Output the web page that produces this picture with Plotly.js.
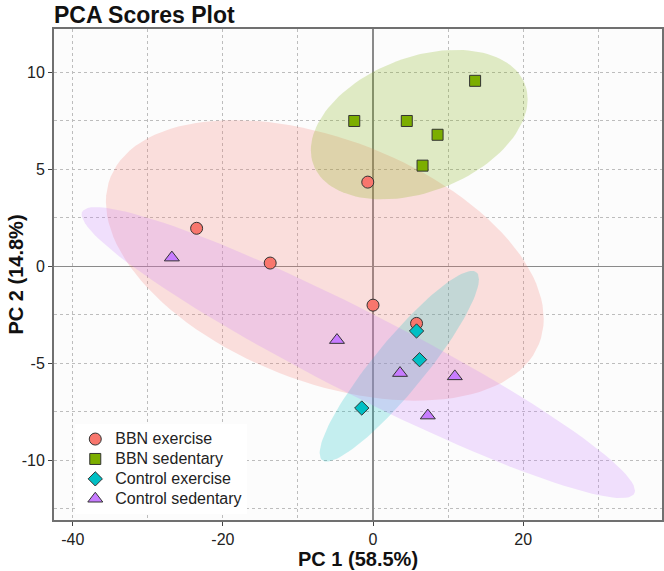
<!DOCTYPE html>
<html>
<head>
<meta charset="utf-8">
<script src="https://cdn.plot.ly/plotly-3.0.1.min.js"></script>
<style>html,body{margin:0;padding:0;background:#fff;}#chart{width:664px;height:571px;}</style>
</head>
<body>
<div id="chart"></div>
<script>
// Group names
const groups = ["BBN exercise", "BBN sedentary", "Control exercise", "Control sedentary"];

// PC1 / PC2 scores per group
const bbnExercisePC1 = [-23.5, -13.7, -0.7, 0.0, 5.8];
const bbnExercisePC2 = [1.96, 0.17, 4.34, -2.0, -2.94];

const bbnSedentaryPC1 = [-2.5, 4.5, 8.6, 6.6, 13.6];
const bbnSedentaryPC2 = [7.49, 7.49, 6.78, 5.19, 9.56];

const controlExercisePC1 = [5.8, 6.2, -1.5];
const controlExercisePC2 = [-3.33, -4.81, -7.3];

const controlSedentaryPC1 = [-26.8, -4.8, 3.6, 10.9, 7.3];
const controlSedentaryPC2 = [0.45, -3.8, -5.5, -5.67, -7.69];

const xTickVals = [-40, -20, 0, 20];
const xTickText = ["-40", "-20", "0", "20"];
const yTickVals = [-10, -5, 0, 5, 10];
const yTickText = ["-10", "-5", "0", "5", "10"];

const xTitle = "PC 1 (58.5%)";
const yTitle = "PC 2 (14.8%)";
const chartTitle = "PCA Scores Plot";

// styles
const colors = ["#F8766D", "#7CAE00", "#00BFC4", "#C77CFF"];
const fills = ["rgba(248,118,109,0.22)", "rgba(124,174,0,0.22)", "rgba(0,191,196,0.22)", "rgba(199,124,255,0.22)"];
const symbols = ["circle", "square", "diamond", "triangle-up"];
const sizes = [12, 11, 11, 13];

const xs = [bbnExercisePC1, bbnSedentaryPC1, controlExercisePC1, controlSedentaryPC1];
const ys = [bbnExercisePC2, bbnSedentaryPC2, controlExercisePC2, controlSedentaryPC2];

// 95% confidence ellipse from group covariance (chi-square, 2 df)
function confEllipse(x, y, level, npts) {
  const n = x.length;
  const mx = x.reduce((a, b) => a + b, 0) / n;
  const my = y.reduce((a, b) => a + b, 0) / n;
  let sxx = 0, syy = 0, sxy = 0;
  for (let i = 0; i < n; i++) {
    sxx += (x[i] - mx) * (x[i] - mx);
    syy += (y[i] - my) * (y[i] - my);
    sxy += (x[i] - mx) * (y[i] - my);
  }
  sxx /= (n - 1); syy /= (n - 1); sxy /= (n - 1);
  const t = Math.sqrt(-2 * Math.log(1 - level));
  const l11 = Math.sqrt(sxx);
  const l21 = sxy / l11;
  const l22 = Math.sqrt(Math.max(syy - l21 * l21, 0));
  const ex = [], ey = [];
  for (let k = 0; k <= npts; k++) {
    const a = 2 * Math.PI * k / npts;
    const c = Math.cos(a), s = Math.sin(a);
    ex.push(mx + t * l11 * c);
    ey.push(my + t * (l21 * c + l22 * s));
  }
  return {x: ex, y: ey};
}

const traces = [];
for (let g = 0; g < groups.length; g++) {
  const e = confEllipse(xs[g], ys[g], 0.95, 120);
  traces.push({
    x: e.x, y: e.y, type: "scatter", mode: "lines", fill: "toself",
    fillcolor: fills[g], line: {width: 0, color: "rgba(0,0,0,0)"},
    hoverinfo: "skip", showlegend: false
  });
}
for (let g = 0; g < groups.length; g++) {
  traces.push({
    x: xs[g], y: ys[g], type: "scatter", mode: "markers",
    name: '<span style="font-size:16px">' + groups[g] + '</span>',
    marker: {symbol: symbols[g], size: sizes[g], color: colors[g], line: {color: "#333333", width: 1}}
  });
}

const FONT = "Liberation Sans, Arial, sans-serif";
const axisCommon = {
  showline: true, mirror: true, linecolor: "#707070", linewidth: 2,
  ticks: "outside", ticklen: 4, tickcolor: "#444", tickwidth: 1,
  showgrid: true, gridcolor: "#bdbdbd", griddash: "dot", gridwidth: 1,
  zeroline: true, zerolinecolor: "#8a8a8a", zerolinewidth: 1.5,
  tickfont: {family: FONT, size: 16, color: "#222"},
  automargin: false
};

const layout = {
  width: 664, height: 571,
  margin: {l: 54, r: 2, t: 29, b: 51},
  paper_bgcolor: "#ffffff",
  plot_bgcolor: "#fcfcfc",
  font: {family: FONT, color: "#222"},
  title: {
    text: "<b>" + chartTitle + "</b>",
    font: {family: FONT, size: 23, color: "#111"},
    xref: "paper", x: 0, xanchor: "left",
    yref: "container", y: 0.973, yanchor: "middle"
  },
  xaxis: Object.assign({}, axisCommon, {
    range: [-42.5, 38.5], tickmode: "array", tickvals: xTickVals, ticktext: xTickText,
    minor: {dtick: 10, tick0: 0, showgrid: true, gridcolor: "#bdbdbd", griddash: "dot", gridwidth: 1, ticks: ""}
  }),
  yaxis: Object.assign({}, axisCommon, {
    range: [-13.07, 12.23], tickmode: "array", tickvals: yTickVals, ticktext: yTickText,
    minor: {dtick: 2.5, tick0: 0, showgrid: true, gridcolor: "#bdbdbd", griddash: "dot", gridwidth: 1, ticks: ""}
  }),
  annotations: [
    {text: "<b>" + xTitle + "</b>", xref: "paper", yref: "paper", x: 0.5, y: 0,
     xanchor: "center", yanchor: "middle", yshift: -39, showarrow: false,
     font: {family: FONT, size: 20, color: "#111"}},
    {text: "<b>" + yTitle + "</b>", xref: "paper", yref: "paper", x: 0, y: 0.5,
     xanchor: "center", yanchor: "middle", xshift: -39, textangle: -90, showarrow: false,
     font: {family: FONT, size: 20, color: "#111"}}
  ],
  legend: {
    x: 0.035, y: 0.012, xanchor: "left", yanchor: "bottom",
    bgcolor: "#ffffff", borderwidth: 0,
    font: {family: FONT, size: 13, color: "#222"},
    tracegroupgap: 0, itemwidth: 30
  },
  showlegend: true
};

Plotly.newPlot("chart", traces, layout, {displayModeBar: false, staticPlot: true});
</script>
</body>
</html>
